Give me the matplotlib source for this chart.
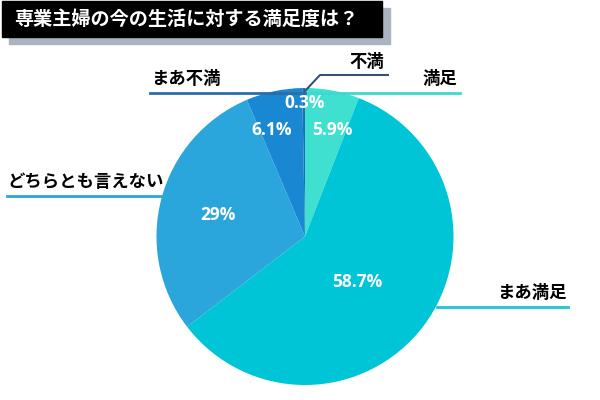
import matplotlib.pyplot as plt
from matplotlib.patches import Rectangle

plt.rcParams['font.family'] = ['Noto Sans CJK JP', 'DejaVu Sans']

title = '専業主婦の今の生活に対する満足度は？'
labels = ['満足', 'まあ満足', 'どちらとも言えない', 'まあ不満', '不満']
values = [5.9, 58.7, 29, 6.1, 0.3]
pct_text = ['5.9%', '58.7%', '29%', '6.1%', '0.3%']
colors = ['#3fe0d0', '#00c5d7', '#2aa6dc', '#1a87d2', '#1f6fb8']
line_colors = ['#3fd8d0', '#1ec6d2', '#2aa6dc', '#2a6ea8', '#3a4f78']

fig = plt.figure(figsize=(6, 4), dpi=100)
ax = fig.add_axes([0, 0, 1, 1])

# pie, center/radius in pixel units (y up)
ax.pie(values, colors=colors, startangle=90, counterclock=False,
       center=(305, 163.5), radius=148.5, frame=True,
       wedgeprops=dict(linewidth=0))
ax.set_xlim(0, 600)
ax.set_ylim(0, 400)
ax.set_aspect('equal')
ax.axis('off')

# title box with shadow
ax.add_patch(Rectangle((9, 356), 381, 36, color='#aab3bf', zorder=5))
ax.add_patch(Rectangle((2, 363), 380, 36, color='black', zorder=6))
ax.text(14, 381, title, color='white', fontsize=13.8, fontweight='bold',
        va='center', ha='left', zorder=7)

# percentage labels inside
pct_pos = [(332, 270), (357, 118), (218, 185), (272, 270), (305, 297)]
for (x, y), t in zip(pct_pos, pct_text):
    ax.text(x, y, t, color='white', fontsize=12.5, fontweight='bold',
            family=['Open Sans', 'DejaVu Sans'],
            ha='center', va='center', zorder=4)

# leader lines and category labels
lw = 2
fs = 12.5
ax.plot([307, 460], [307, 307], color=line_colors[0], lw=lw)
ax.text(457, 312, labels[0], ha='right', va='bottom', fontsize=fs, fontweight='bold')

ax.plot([437, 568], [93, 93], color=line_colors[1], lw=lw)
ax.text(567, 98, labels[1], ha='right', va='bottom', fontsize=fs, fontweight='bold')

ax.plot([7, 162], [204, 204], color=line_colors[2], lw=lw)
ax.text(7, 209, labels[2], ha='left', va='bottom', fontsize=fs, fontweight='bold')

ax.plot([150, 305], [307, 307], color=line_colors[3], lw=lw)
ax.text(151, 312, labels[3], ha='left', va='bottom', fontsize=fs, fontweight='bold')

ax.plot([305, 320, 388], [309, 325, 325], color=line_colors[4], lw=1.5)
ax.text(384, 329, labels[4], ha='right', va='bottom', fontsize=fs, fontweight='bold')

fig.savefig('out.png', dpi=100)
